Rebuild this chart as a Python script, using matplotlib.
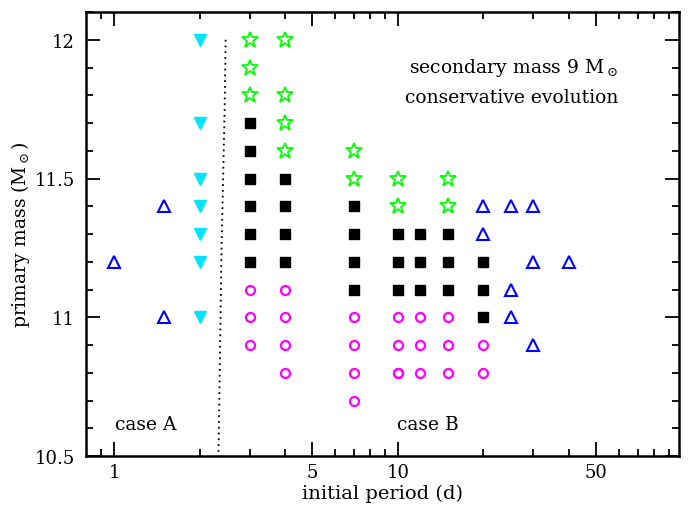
import matplotlib
matplotlib.use("Agg")
import matplotlib.pyplot as plt
from matplotlib.ticker import FixedLocator, NullFormatter, FixedFormatter

plt.rcParams['font.family'] = ['DejaVu Serif']
plt.rcParams['mathtext.fontset'] = 'dejavuserif'

# Data (initial period in days, primary mass in Msun)
cyan_P = [2, 2, 2, 2, 2, 2, 2]
cyan_M = [12.0, 11.7, 11.5, 11.4, 11.3, 11.2, 11.0]

blue_P = [1, 1.5, 1.5, 20, 25, 30, 20, 30, 40, 25, 25, 30]
blue_M = [11.2, 11.4, 11.0, 11.4, 11.4, 11.4, 11.3, 11.2, 11.2, 11.1, 11.0, 10.9]

star_P = [3, 4, 3, 3, 4, 4, 4, 7, 7, 10, 15, 10, 15]
star_M = [12.0, 12.0, 11.9, 11.8, 11.8, 11.7, 11.6, 11.6, 11.5, 11.5, 11.5, 11.4, 11.4]

sq_P = [3, 3, 3, 3, 3, 3, 4, 4, 4, 4, 7, 7, 7, 7, 10, 10, 10, 12, 12, 12, 15, 15, 15, 20, 20, 20]
sq_M = [11.7, 11.6, 11.5, 11.4, 11.3, 11.2, 11.5, 11.4, 11.3, 11.2, 11.4, 11.3, 11.2, 11.1,
        11.3, 11.2, 11.1, 11.3, 11.2, 11.1, 11.3, 11.2, 11.1, 11.2, 11.1, 11.0]

circ_P = [3, 3, 3, 4, 4, 4, 4, 7, 7, 7, 7, 10, 10, 10, 10.05, 12, 12, 12, 15, 15, 15, 20, 20]
circ_M = [11.1, 11.0, 10.9, 11.1, 11.0, 10.9, 10.8, 11.0, 10.9, 10.8, 10.7, 11.0, 10.9, 10.8, 10.8,
          11.0, 10.9, 10.8, 11.0, 10.9, 10.8, 10.9, 10.8]

# boundary between case A and case B
bound_P = [2.47, 2.45, 2.42, 2.39, 2.37, 2.35, 2.33]
bound_M = [12.0, 11.75, 11.5, 11.25, 11.0, 10.75, 10.5]

x_major = [1, 5, 10, 50]
x_major_labels = ['1', '5', '10', '50']
x_minor = [0.9, 2, 3, 4, 6, 7, 8, 9, 20, 30, 40, 60, 70, 80, 90]
y_major = [10.5, 11, 11.5, 12]
y_major_labels = ['10.5', '11', '11.5', '12']
y_minor = [10.6, 10.7, 10.8, 10.9, 11.1, 11.2, 11.3, 11.4, 11.6, 11.7, 11.8, 11.9, 12.1]

fig = plt.figure(figsize=(6.91, 5.10), dpi=100)
ax = fig.add_axes([86/691, 1 - 457/510, (679-86)/691, (457-13)/510])
ax.set_xscale('log')
ax.set_xlim(0.795, 98)
ax.set_ylim(10.5, 12.1)

ax.plot(bound_P, bound_M, linestyle=(0, (1, 2.2)), color='black', lw=1.3)

ax.plot(cyan_P, cyan_M, 'v', color='#00e5ff', ms=9, mec='#00e5ff', ls='none')
ax.plot(blue_P, blue_M, '^', mfc='none', mec='#0000ff', mew=1.5, ms=9, ls='none')
ax.plot(star_P, star_M, '*', mfc='none', mec='#00ff00', mew=1.3, ms=12, ls='none')
ax.plot(sq_P, sq_M, 's', color='black', ms=7, ls='none')
ax.plot(circ_P, circ_M, 'o', mfc='none', mec='#ff00ff', mew=1.6, ms=6.5, ls='none')

ax.xaxis.set_major_locator(FixedLocator(x_major))
ax.xaxis.set_major_formatter(FixedFormatter(x_major_labels))
ax.xaxis.set_minor_locator(FixedLocator(x_minor))
ax.xaxis.set_minor_formatter(NullFormatter())
ax.yaxis.set_major_locator(FixedLocator(y_major))
ax.yaxis.set_major_formatter(FixedFormatter(y_major_labels))
ax.yaxis.set_minor_locator(FixedLocator(y_minor))
ax.yaxis.set_minor_formatter(NullFormatter())

ax.tick_params(which='both', direction='in', top=True, right=True, width=1.3, labelsize=13)
ax.tick_params(axis='x', which='both', pad=5)
ax.tick_params(axis='y', which='both', pad=8)
ax.tick_params(which='major', length=10)
ax.tick_params(which='minor', length=5)
for s in ax.spines.values():
    s.set_linewidth(1.8)

ax.set_xlabel('initial period (d)', fontsize=14, labelpad=2)
ax.set_ylabel(r'primary mass (M$_\odot$)', fontsize=13.5, labelpad=2)

fs = 13.5
ax.text(0.897, 0.876, r'secondary mass 9 M$_\odot$', transform=ax.transAxes, ha='right', va='center', fontsize=fs)
ax.text(0.897, 0.809, 'conservative evolution', transform=ax.transAxes, ha='right', va='center', fontsize=fs)
ax.text(0.049, 0.072, 'case A', transform=ax.transAxes, ha='left', va='center', fontsize=fs)
ax.text(0.524, 0.072, 'case B', transform=ax.transAxes, ha='left', va='center', fontsize=fs)

fig.savefig('out.png', dpi=100)
